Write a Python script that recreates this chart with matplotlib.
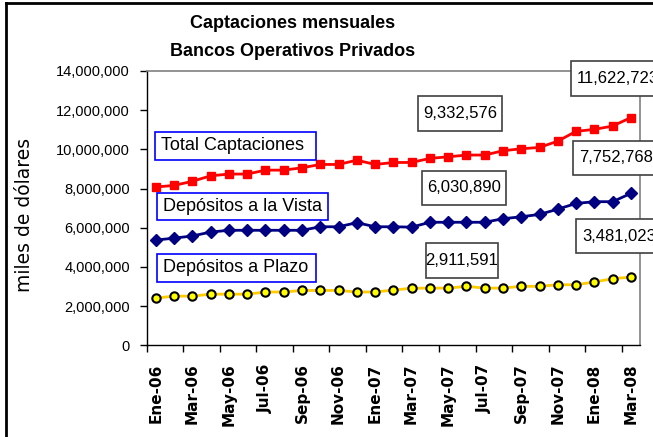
import numpy as np
import matplotlib
matplotlib.use('Agg')
import matplotlib.pyplot as plt
from matplotlib.patches import Rectangle
from matplotlib.ticker import FuncFormatter

# ---- Data (millones de miles de dólares) ----
meses = ['Ene-06', 'Feb-06', 'Mar-06', 'Abr-06', 'May-06', 'Jun-06', 'Jul-06', 'Ago-06', 'Sep-06',
         'Oct-06', 'Nov-06', 'Dic-06', 'Ene-07', 'Feb-07', 'Mar-07', 'Abr-07', 'May-07', 'Jun-07',
         'Jul-07', 'Ago-07', 'Sep-07', 'Oct-07', 'Nov-07', 'Dic-07', 'Ene-08', 'Feb-08', 'Mar-08']

total = [8.08, 8.16, 8.37, 8.65, 8.74, 8.74, 8.94, 8.94, 9.06, 9.23, 9.23, 9.45, 9.23,
         9.33, 9.332576, 9.54, 9.62, 9.71, 9.71, 9.93, 10.03, 10.10, 10.42, 10.92, 11.02, 11.19, 11.622723]
vista = [5.37, 5.47, 5.58, 5.78, 5.87, 5.87, 5.87, 5.87, 5.87, 6.05, 6.05, 6.26, 6.05,
         6.05, 6.030890, 6.28, 6.28, 6.28, 6.28, 6.46, 6.56, 6.68, 6.95, 7.24, 7.33, 7.33, 7.752768]
plazo = [2.41, 2.51, 2.51, 2.61, 2.61, 2.61, 2.72, 2.72, 2.80, 2.80, 2.80, 2.72, 2.72,
         2.82, 2.911591, 2.92, 2.92, 3.01, 2.92, 2.92, 3.01, 3.01, 3.09, 3.09, 3.23, 3.40, 3.481023]

total = np.array(total) * 1e6
vista = np.array(vista) * 1e6
plazo = np.array(plazo) * 1e6
x = np.arange(len(meses))

W, H = 653, 437
plt.rcParams['font.family'] = ['Liberation Sans', 'DejaVu Sans']

fig = plt.figure(figsize=(W / 100, H / 100), dpi=100)

def fx(px):
    return px / W

def fy(py):
    return 1 - py / H

# plot area in pixels
left, right, top, bottom = 146.7, 640, 71, 345.3
ax = fig.add_axes([fx(left), fy(bottom), fx(right - left), (bottom - top) / H])

ax.plot(x, total, color='#FF0000', linewidth=2, marker='s', markersize=5.5,
        markerfacecolor='#FF0000', markeredgecolor='#FF0000')
ax.plot(x, vista, color='#000080', linewidth=2, marker='D', markersize=6,
        markerfacecolor='#000080', markeredgecolor='#000080')
ax.plot(x, plazo, color='#FFCC00', linewidth=2, marker='o', markersize=6,
        markerfacecolor='#FFFF00', markeredgecolor='#000000', markeredgewidth=1.5)

ax.set_xlim(-0.5, len(meses) - 0.5)
ax.set_ylim(0, 14e6)
ax.set_yticks(np.arange(0, 14e6 + 1, 2e6))
ax.yaxis.set_major_formatter(FuncFormatter(lambda v, p: f'{int(v):,}'))
ax.tick_params(axis='y', direction='out', length=5, width=1, pad=7, labelsize=10.5)

# labels every two months, tick marks on category boundaries
ax.set_xticks(x[::2])
ax.set_xticklabels(meses[::2], rotation=90, fontweight='bold', fontsize=11, va='top',
                   family='DejaVu Sans')
ax.set_xticks(np.arange(-0.5, len(meses) - 1, 2), minor=True)
ax.tick_params(axis='x', which='major', length=0, pad=13)
ax.tick_params(axis='x', which='minor', direction='out', length=5, width=1)

for s in ['left', 'bottom']:
    ax.spines[s].set_color('black')
    ax.spines[s].set_linewidth(1)
for s in ['top', 'right']:
    ax.spines[s].set_color('#808080')
    ax.spines[s].set_linewidth(1.2)

# ---- Titles ----
fig.text(fx(293), fy(24), 'Captaciones mensuales', ha='center', va='center',
         fontsize=13, fontweight='bold')
fig.text(fx(293), fy(52), 'Bancos Operativos Privados', ha='center', va='center',
         fontsize=13, fontweight='bold')
fig.text(fx(24), fy(215), 'miles de dólares', rotation=90, ha='center', va='center',
         fontsize=13.5, family='DejaVu Sans')

# ---- Boxes ----
def box(x0, y0, x1, y1, text, edge, align='center', size=12):
    fig.patches.append(Rectangle((fx(x0), fy(y1)), fx(x1 - x0), (y1 - y0) / H,
                                 transform=fig.transFigure, facecolor='white',
                                 edgecolor=edge, linewidth=1.2, zorder=5))
    if align == 'center':
        tx, ha = (x0 + x1) / 2, 'center'
    else:
        tx, ha = x0 + 6, 'left'
    fig.text(fx(tx), fy((y0 + y1) / 2), text, ha=ha, va='center', fontsize=size, zorder=6)

box(155, 132, 316, 160, 'Total Captaciones', '#0000FF', 'left', 13)
box(157, 193, 328, 220, 'Depósitos a la Vista', '#0000FF', 'left', 13)
box(157, 254, 316, 282, 'Depósitos a Plazo', '#0000FF', 'left', 13)

box(418, 96, 502, 131, f'{total[14]:,.0f}', '#404040')
box(422, 171, 506, 205, f'{vista[14]:,.0f}', '#404040')
box(426, 243, 498, 278, f'{plazo[14]:,.0f}', '#404040')
box(571, 61, 670, 96, f'{total[-1]:,.0f}', '#404040', 'left')
box(573, 141, 670, 175, f'{vista[-1]:,.0f}', '#404040', 'left')
box(576, 219, 670, 253, f'{plazo[-1]:,.0f}', '#404040', 'left')

# outer chart border (left and top visible)
fig.add_artist(plt.Line2D([fx(6), fx(6)], [fy(3), 0], transform=fig.transFigure,
                          color='black', linewidth=2))
fig.add_artist(plt.Line2D([fx(6), 1], [fy(3), fy(3)], transform=fig.transFigure,
                          color='black', linewidth=2))

fig.savefig('out.png', dpi=100)
